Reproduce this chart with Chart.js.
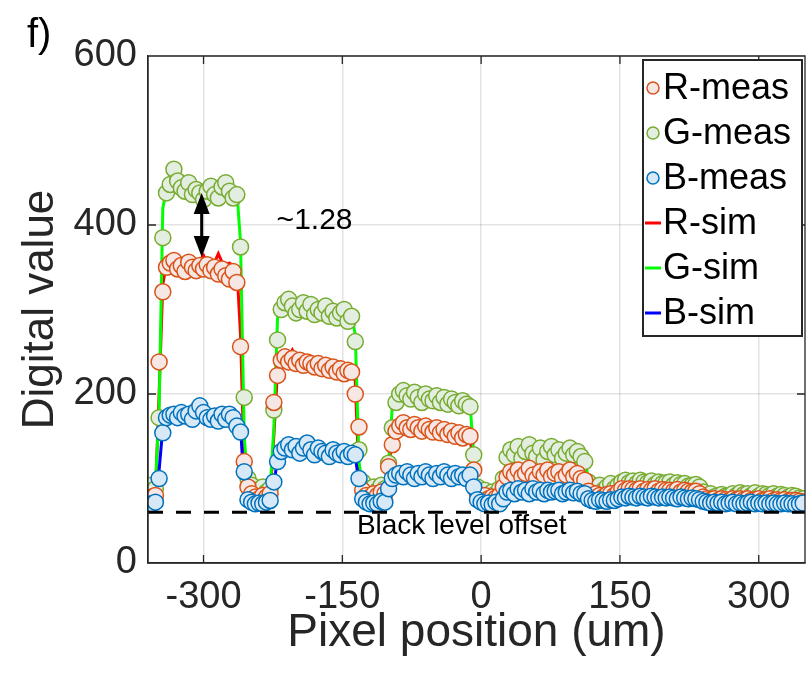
<!DOCTYPE html>
<html>
<head>
<meta charset="utf-8">
<script src="https://cdn.jsdelivr.net/npm/chart.js@4.4.1/dist/chart.umd.min.js"></script>
<style>
  html, body { margin: 0; padding: 0; background: #fff; }
  canvas { display: block; }
</style>
</head>
<body>
<canvas id="theChart" width="808" height="677"></canvas>
<script>
// pixel positions across the sensor (um)
var xPos = [
  -356, -352, -348, -344, -340, -336, -332, -328, -324, -320,
  -316, -312, -308, -304, -300, -296, -292, -288, -284, -280,
  -276, -272, -268, -264, -260, -256, -252, -248, -244, -240,
  -236, -232, -228, -224, -220, -216, -212, -208, -204, -200,
  -196, -192, -188, -184, -180, -176, -172, -168, -164, -160,
  -156, -152, -148, -144, -140, -136, -132, -128, -124, -120,
  -116, -112, -108, -104, -100, -96, -92, -88, -84, -80,
  -76, -72, -68, -64, -60, -56, -52, -48, -44, -40,
  -36, -32, -28, -24, -20, -16, -12, -8, -4, 0,
  4, 8, 12, 16, 20, 24, 28, 32, 36, 40,
  44, 48, 52, 56, 60, 64, 68, 72, 76, 80,
  84, 88, 92, 96, 100, 104, 108, 112, 116, 120,
  124, 128, 132, 136, 140, 144, 148, 152, 156, 160,
  164, 168, 172, 176, 180, 184, 188, 192, 196, 200,
  204, 208, 212, 216, 220, 224, 228, 232, 236, 240,
  244, 248, 252, 256, 260, 264, 268, 272, 276, 280,
  284, 288, 292, 296, 300, 304, 308, 312, 316, 320,
  324, 328, 332, 336, 340, 344, 348
];

// measured digital values
var rMeas = [
  78, 80, 238, 321, 350, 355, 358, 348, 352, 345,
  356, 350, 346, 352, 348, 353, 346, 350, 342, 348,
  340, 336, 345, 332, 256, 120, 90, 82, 78, 76,
  80, 78, 82, 190, 222, 240, 244, 238, 242, 236,
  240, 234, 238, 236, 232, 236, 230, 234, 228, 232,
  226, 230, 224, 228, 226, 200, 161, 86, 80, 78,
  82, 80, 84, 82, 114, 140, 156, 162, 166, 160,
  158, 164, 160, 156, 162, 158, 155, 160, 154, 158,
  152, 156, 150, 154, 148, 152, 150, 110, 82, 78,
  80, 76, 78, 77, 80, 90, 102, 108, 104, 110,
  102, 106, 112, 104, 100, 108, 104, 110, 102, 106,
  108, 100, 104, 110, 102, 106, 100, 98, 85, 80,
  82, 80, 78, 81, 82, 80, 84, 88, 86, 88,
  87, 86, 88, 85, 87, 86, 88, 85, 87, 86,
  86, 85, 87, 84, 86, 85, 84, 85, 82, 78,
  76, 75, 76, 74, 76, 75, 74, 76, 75, 76,
  75, 76, 74, 75, 76, 74, 75, 76, 74, 75,
  74, 75, 73, 74, 74, 73, 72
];
var gMeas = [
  92, 88, 172, 385, 438, 448, 466, 452, 444, 440,
  450, 436, 442, 438, 430, 440, 446, 436, 432, 445,
  450, 440, 432, 436, 374, 196, 100, 92, 86, 84,
  90, 84, 88, 181, 264, 300, 308, 312, 304, 296,
  300, 308, 298, 306, 294, 300, 296, 304, 292, 298,
  290, 296, 300, 286, 292, 262, 134, 96, 88, 84,
  90, 86, 92, 88, 118, 160, 190, 200, 204, 198,
  194, 202, 196, 190, 200, 194, 192, 198, 190, 196,
  188, 194, 190, 186, 192, 188, 185, 128, 90, 84,
  86, 80, 84, 82, 88, 100, 125, 134, 128, 138,
  124, 132, 140, 130, 126, 136, 122, 132, 138, 128,
  134, 124, 130, 136, 128, 132, 126, 120, 96, 88,
  90, 92, 86, 90, 94, 88, 92, 96, 98, 95,
  97, 94, 98, 96, 95, 97, 93, 96, 94, 95,
  96, 92, 95, 93, 94, 91, 92, 93, 90, 84,
  80, 82, 78, 80, 81, 79, 80, 82, 80, 83,
  81, 82, 80, 83, 79, 82, 81, 80, 82, 79,
  81, 80, 78, 80, 79, 77, 76
];
var bMeas = [
  70, 72, 100, 154, 172, 175, 176, 172, 178, 174,
  176, 170, 180, 186, 178, 172, 170, 174, 168, 176,
  170, 176, 172, 162, 155, 108, 75, 72, 70, 71,
  70, 72, 74, 96, 120, 132, 136, 140, 134, 138,
  130, 136, 142, 134, 128, 136, 132, 130, 126, 134,
  130, 128, 132, 126, 130, 128, 100, 76, 72, 70,
  71, 70, 73, 72, 88, 100, 104, 106, 102, 108,
  104, 100, 106, 102, 108, 104, 100, 106, 102, 108,
  104, 100, 106, 102, 104, 100, 104, 90, 75, 72,
  70, 71, 69, 72, 70, 76, 84, 86, 82, 88,
  84, 86, 82, 88, 84, 86, 82, 86, 84, 85,
  86, 82, 84, 86, 83, 85, 82, 82, 76, 74,
  73, 75, 74, 73, 75, 74, 76, 78, 77, 79,
  78, 77, 79, 78, 77, 79, 78, 77, 78, 77,
  78, 77, 76, 78, 77, 76, 77, 76, 75, 73,
  72, 71, 72, 71, 72, 70, 71, 72, 70, 71,
  70, 71, 72, 70, 71, 70, 71, 70, 71, 70,
  70, 71, 70, 70, 69, 70, 71
];

// simulated values
var rSim = [
  78, 80, 200, 330, 354, 356, 360, 355, 357, 356,
  362, 356, 355, 358, 364, 355, 357, 356, 366, 356,
  354, 355, 352, 350, 270, 110, 80, 78, 77, 77,
  78, 77, 78, 150, 228, 244, 250, 244, 252, 243,
  242, 244, 243, 240, 241, 242, 239, 240, 238, 239,
  237, 238, 236, 235, 233, 215, 100, 80, 78, 77,
  78, 77, 78, 79, 110, 150, 160, 162, 163, 162,
  161, 162, 161, 160, 160, 159, 158, 158, 157, 156,
  156, 155, 154, 154, 153, 152, 150, 110, 79, 77,
  76, 76, 77, 76, 77, 85, 104, 110, 110, 111,
  110, 109, 110, 109, 108, 109, 108, 108, 107, 108,
  107, 106, 107, 106, 105, 105, 104, 102, 85, 79,
  79, 79, 80, 79, 80, 81, 82, 87, 88, 88,
  88, 87, 88, 87, 87, 87, 86, 86, 86, 86,
  86, 85, 85, 85, 85, 84, 84, 84, 82, 77,
  76, 76, 76, 76, 75, 75, 76, 76, 75, 75,
  75, 75, 75, 74, 75, 74, 74, 74, 74, 74,
  74, 73, 73, 73, 73, 72, 72
];
var gSim = [
  90, 92, 180, 420, 442, 446, 448, 445, 444, 446,
  448, 443, 445, 444, 446, 442, 445, 447, 443, 444,
  446, 442, 444, 440, 380, 150, 92, 88, 86, 86,
  87, 86, 88, 160, 290, 305, 310, 308, 306, 302,
  305, 308, 304, 303, 300, 304, 301, 303, 299, 300,
  298, 300, 297, 296, 294, 270, 120, 90, 87, 86,
  87, 86, 88, 88, 120, 185, 198, 200, 199, 198,
  197, 199, 198, 196, 198, 197, 195, 196, 195, 194,
  193, 194, 192, 191, 192, 190, 188, 130, 88, 85,
  84, 83, 84, 83, 85, 95, 128, 136, 135, 136,
  135, 134, 136, 135, 133, 134, 133, 134, 132, 133,
  132, 133, 131, 132, 131, 130, 130, 128, 96, 88,
  88, 89, 88, 89, 90, 90, 92, 97, 98, 97,
  98, 97, 97, 98, 97, 96, 97, 96, 96, 97,
  96, 96, 95, 95, 96, 95, 94, 94, 92, 84,
  82, 81, 81, 82, 81, 81, 82, 83, 82, 82,
  82, 81, 82, 81, 81, 82, 81, 80, 81, 80,
  80, 80, 79, 79, 78, 78, 78
];
var bSim = [
  70, 72, 110, 160, 174, 176, 175, 176, 177, 176,
  177, 176, 178, 178, 177, 176, 176, 175, 175, 174,
  174, 174, 173, 170, 160, 90, 72, 71, 70, 70,
  70, 71, 72, 90, 126, 134, 136, 137, 136, 136,
  135, 135, 136, 135, 134, 134, 133, 133, 132, 132,
  131, 131, 130, 130, 129, 126, 95, 73, 71, 70,
  70, 70, 71, 71, 88, 102, 106, 107, 107, 107,
  106, 106, 106, 106, 106, 105, 105, 105, 105, 104,
  104, 104, 103, 103, 103, 102, 101, 85, 72, 71,
  70, 70, 70, 70, 71, 76, 84, 86, 86, 86,
  86, 86, 86, 86, 85, 85, 85, 85, 85, 85,
  85, 84, 84, 84, 84, 84, 83, 82, 75, 73,
  73, 73, 73, 74, 74, 74, 75, 78, 78, 78,
  78, 78, 78, 78, 78, 78, 78, 77, 77, 77,
  77, 77, 77, 77, 76, 76, 76, 76, 75, 72,
  71, 71, 71, 71, 71, 71, 71, 71, 71, 71,
  70, 70, 70, 70, 70, 70, 70, 70, 70, 70,
  70, 70, 70, 70, 70, 70, 70
];

var xTicks = [-300, -150, 0, 150, 300];
var yTicks = [0, 200, 400, 600];
var blackLevel = 60;
var ratioArrow = { x: -302, bottom: 362, top: 438 };
var ratioNote = { x: -221, y: 405, text: '~1.28' };
var offsetNote = { x: -21, y: 43, text: 'Black level offset' };

var FONT = '"Liberation Sans", Arial, Helvetica, sans-serif';
var AXIS = '#262626';

function points(ys) {
    return xPos.map(function (x, i) { return { x: x, y: ys[i] }; });
}
function measSet(label, ys, edge, fill, order) {
    return {
        label: label, kind: 'meas', data: points(ys), showLine: false, order: order, clip: 0,
        pointRadius: 8, pointHoverRadius: 8, pointBorderWidth: 1.5,
        pointBorderColor: edge, pointBackgroundColor: fill, borderColor: edge, backgroundColor: fill
    };
}
function simSet(label, ys, color, order) {
    return {
        label: label, kind: 'sim', data: points(ys), showLine: true, order: order, clip: 0,
        pointRadius: 0, borderWidth: 3, borderColor: color, backgroundColor: color, tension: 0
    };
}

var decorations = {
    id: 'decorations',
    afterDatasetsDraw: function (chart) {
        var ctx = chart.ctx, area = chart.chartArea;
        var xs = chart.scales.x, ys = chart.scales.y;
        ctx.save();
        // box with inward ticks
        ctx.strokeStyle = AXIS;
        ctx.lineWidth = 1.3;
        ctx.beginPath();
        ctx.rect(area.left, area.top, area.right - area.left, area.bottom - area.top);
        xTicks.forEach(function (v) {
            var p = xs.getPixelForValue(v);
            ctx.moveTo(p, area.bottom); ctx.lineTo(p, area.bottom - 8);
            ctx.moveTo(p, area.top); ctx.lineTo(p, area.top + 8);
        });
        yTicks.forEach(function (v) {
            var p = ys.getPixelForValue(v);
            ctx.moveTo(area.left, p); ctx.lineTo(area.left + 8, p);
            ctx.moveTo(area.right, p); ctx.lineTo(area.right - 8, p);
        });
        ctx.stroke();

        // double arrow for the G/R ratio
        var ax = xs.getPixelForValue(ratioArrow.x);
        var yt = ys.getPixelForValue(ratioArrow.top);
        var yb = ys.getPixelForValue(ratioArrow.bottom);
        var head = 21, half = 8;
        ctx.strokeStyle = '#000';
        ctx.fillStyle = '#000';
        ctx.lineWidth = 3;
        ctx.beginPath();
        ctx.moveTo(ax, yt + head - 2); ctx.lineTo(ax, yb - head + 2);
        ctx.stroke();
        ctx.beginPath();
        ctx.moveTo(ax, yt); ctx.lineTo(ax - half, yt + head); ctx.lineTo(ax + half, yt + head);
        ctx.closePath(); ctx.fill();
        ctx.beginPath();
        ctx.moveTo(ax, yb); ctx.lineTo(ax - half, yb - head); ctx.lineTo(ax + half, yb - head);
        ctx.closePath(); ctx.fill();

        ctx.textBaseline = 'middle';
        ctx.font = '30px ' + FONT;
        ctx.textAlign = 'left';
        ctx.fillText(ratioNote.text, xs.getPixelForValue(ratioNote.x), ys.getPixelForValue(ratioNote.y));
        ctx.font = '28px ' + FONT;
        ctx.textAlign = 'center';
        ctx.fillText(offsetNote.text, xs.getPixelForValue(offsetNote.x), ys.getPixelForValue(offsetNote.y));
        ctx.restore();
    },
    afterDraw: function (chart) {
        var ctx = chart.ctx, area = chart.chartArea;
        ctx.save();
        // panel letter
        ctx.fillStyle = '#000';
        ctx.font = '40px ' + FONT;
        ctx.textAlign = 'left';
        ctx.textBaseline = 'alphabetic';
        ctx.fillText('f)', 27, 47);

        // legend box
        var lx = area.right - 162, ly = area.top + 4, lw = 159, lh = 276;
        ctx.fillStyle = '#fff';
        ctx.fillRect(lx, ly, lw, lh);
        ctx.strokeStyle = AXIS;
        ctx.lineWidth = 2;
        ctx.strokeRect(lx, ly, lw, lh);
        ctx.font = '36px ' + FONT;
        ctx.textBaseline = 'middle';
        var row = 0;
        chart.data.datasets.forEach(function (ds) {
            if (!ds.kind) return;
            var cy = ly + 28 + row * 45;
            if (ds.kind === 'meas') {
                ctx.beginPath();
                ctx.arc(lx + 10, cy, 6, 0, Math.PI * 2);
                ctx.fillStyle = ds.pointBackgroundColor;
                ctx.fill();
                ctx.lineWidth = 1.5;
                ctx.strokeStyle = ds.pointBorderColor;
                ctx.stroke();
            } else {
                ctx.beginPath();
                ctx.moveTo(lx + 2, cy); ctx.lineTo(lx + 18, cy);
                ctx.lineWidth = 3;
                ctx.strokeStyle = ds.borderColor;
                ctx.stroke();
            }
            ctx.fillStyle = '#000';
            ctx.fillText(ds.label, lx + 20, cy + 1);
            row++;
        });
        ctx.restore();
    }
};

function dashboard() {
    var datasets = [
        measSet('R-meas', rMeas, '#D95319', '#F6E7E4', 2),
        measSet('G-meas', gMeas, '#77AC30', '#E4EEE0', 3),
        measSet('B-meas', bMeas, '#0072BD', '#D7E8F7', 1),
        simSet('R-sim', rSim, '#FF0000', 6),
        simSet('G-sim', gSim, '#00FF00', 5),
        simSet('B-sim', bSim, '#0000FF', 4),
        {
            label: '', data: [{ x: -360, y: blackLevel }, { x: 350, y: blackLevel }],
            showLine: true, pointRadius: 0, borderColor: '#000', borderWidth: 3,
            borderDash: [15, 13], order: 0, clip: 0
        }
    ];
    var ctx = document.getElementById('theChart').getContext('2d');
    new Chart(ctx, {
        type: 'scatter',
        data: { datasets: datasets },
        options: {
            responsive: false,
            animation: false,
            devicePixelRatio: 1,
            layout: { autoPadding: false, padding: { top: 56, right: 3, left: 0, bottom: 0 } },
            plugins: { legend: { display: false }, tooltip: { enabled: false } },
            scales: {
                x: {
                    type: 'linear', min: -360, max: 350,
                    afterBuildTicks: function (s) { s.ticks = xTicks.map(function (v) { return { value: v }; }); },
                    afterFit: function (s) { s.height = 114; s.paddingLeft = 0; s.paddingRight = 0; },
                    grid: { color: 'rgba(38,38,38,0.13)', lineWidth: 1.5, drawTicks: false },
                    border: { color: AXIS, width: 1.3 },
                    ticks: { font: { family: FONT, size: 38 }, color: AXIS, padding: 12, maxRotation: 0, autoSkip: false },
                    title: { display: true, text: 'Pixel position (um)', color: AXIS, font: { family: FONT, size: 46 }, padding: { top: 0, bottom: 16 } }
                },
                y: {
                    type: 'linear', min: 0, max: 600,
                    afterBuildTicks: function (s) { s.ticks = yTicks.map(function (v) { return { value: v }; }); },
                    afterFit: function (s) { s.width = 148; s.paddingTop = 0; s.paddingBottom = 0; },
                    grid: { color: 'rgba(38,38,38,0.13)', lineWidth: 1.5, drawTicks: false },
                    border: { color: AXIS, width: 1.3 },
                    ticks: { font: { family: FONT, size: 38 }, color: AXIS, padding: 11 },
                    title: { display: true, text: 'Digital value', color: AXIS, font: { family: FONT, size: 44 }, padding: { top: 14, bottom: 0 } }
                }
            }
        },
        plugins: [decorations]
    });
}
dashboard();
</script>
</body>
</html>
